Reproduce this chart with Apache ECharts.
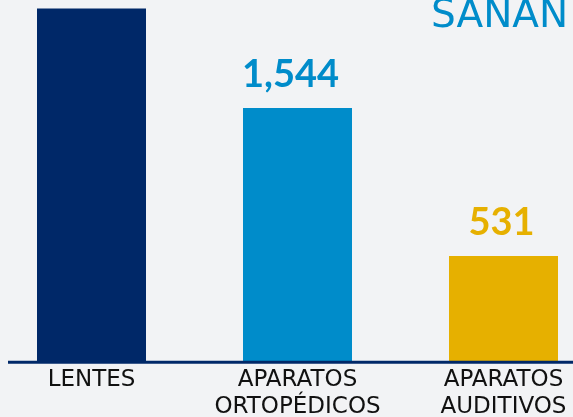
<!DOCTYPE html>
<html>
<head>
<meta charset="utf-8">
<script src="https://cdn.jsdelivr.net/npm/echarts@6/dist/echarts.min.js"></script>
<style>
  html, body { margin: 0; padding: 0; background: #f2f3f5; }
  #chart { width: 573px; height: 417px; }
</style>
</head>
<body>
<div id="chart"></div>
<script>
// datos
const categories = ["LENTES", "APARATOS\nORTOPÉDICOS", "APARATOS\nAUDITIVOS"];
const values = [2225, 1544, 531];
const barColors = ["#002868", "#008cca", "#e6b000"];
const titleText = "SANAN";

const navy = "#002868";
// desplazamiento horizontal de las etiquetas
const labelShift = [0, -7, -2];

const chart = echarts.init(document.getElementById("chart"));

let seriesData = [];
values.forEach((v, i) => {
  seriesData.push({
    value: v,
    itemStyle: { color: barColors[i] },
    label: { color: barColors[i], offset: [labelShift[i], 0] }
  });
});

chart.setOption({
  backgroundColor: "#f2f3f5",
  animation: false,
  title: {
    text: titleText,
    left: 431,
    top: -3,
    padding: 0,
    textStyle: {
      fontFamily: "DejaVu Sans",
      fontSize: 39,
      fontWeight: "normal",
      color: "#008cca"
    }
  },
  grid: {
    left: -11.5,
    right: -33.5,
    top: 0,
    bottom: 56,
    containLabel: false,
    outerBoundsMode: "none"
  },
  xAxis: {
    type: "category",
    data: categories,
    axisLine: { show: false },
    axisTick: { show: false },
    splitLine: { show: false },
    axisLabel: {
      interval: 0,
      margin: 6,
      color: "#111111",
      fontFamily: "DejaVu Sans",
      fontSize: 23,
      lineHeight: 27
    }
  },
  yAxis: {
    type: "value",
    min: -188,
    max: 2283,
    startValue: -188,
    show: false,
    splitLine: { show: false }
  },
  series: [
    {
      type: "bar",
      barWidth: 109,
      data: seriesData,
      label: {
        show: true,
        position: "top",
        distance: 14,
        fontFamily: "Lato",
        fontWeight: "bold",
        fontSize: 38,
        formatter: p => p.value.toLocaleString("en-US")
      }
    }
  ],
  graphic: [
    {
      type: "line",
      z: 10,
      shape: { x1: 8, y1: 362.2, x2: 573, y2: 362.2 },
      style: { stroke: navy, lineWidth: 3 }
    }
  ]
});
</script>
</body>
</html>
